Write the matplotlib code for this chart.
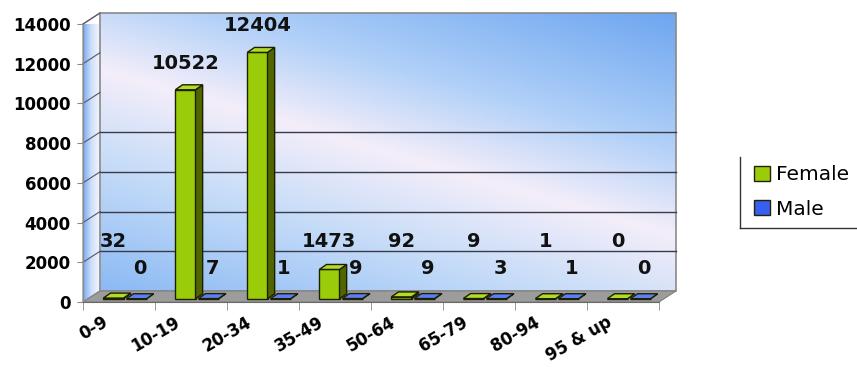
import numpy as np
import matplotlib
matplotlib.use("Agg")
import matplotlib.pyplot as plt
from matplotlib.patches import Polygon, Rectangle, Patch
from matplotlib.colors import LinearSegmentedColormap
from matplotlib.transforms import ScaledTranslation
from matplotlib.lines import Line2D

# data
age_groups = ["0-9", "10-19", "20-34", "35-49", "50-64", "65-79", "80-94", "95 & up"]
female = [32, 10522, 12404, 1473, 92, 9, 1, 0]
male = [0, 7, 1, 9, 9, 3, 1, 0]
yticks = [0, 2000, 4000, 6000, 8000, 10000, 12000, 14000]

plt.rcParams['font.family'] = ['DejaVu Sans']

fig = plt.figure(figsize=(8.57, 3.67), dpi=100)
fig.patch.set_facecolor("white")
# front plane of the 3d box
ax = fig.add_axes([83/857, 65/367, 576/857, 278/367])
ax.patch.set_visible(False)

YMAX = 14000
DX = 17/72.0            # depth of the box (x, data units)
DY = 11*YMAX/278.0      # depth of the box (y, data units)
n = len(age_groups)
x0, x1 = -0.5, n - 0.5

# back wall gradient
u = np.linspace(0, 1, 300)
v = np.linspace(0, 1, 150)
U, V = np.meshgrid(u, v)
C = 0.6*U + V - 0.8
wall_cmap = LinearSegmentedColormap.from_list(
    "wall", [(0, "#8cbaf4"), (0.28, "#c4dbf8"), (0.5, "#f4eefa"),
             (0.7, "#b0d0f8"), (1, "#6ea6f0")])
ax.imshow(C, cmap=wall_cmap, vmin=-0.8, vmax=0.8, origin="lower", aspect="auto",
          extent=(x0+DX, x1+DX, DY, YMAX+DY), zorder=0, clip_on=False,
          interpolation="bilinear")
ax.add_patch(Rectangle((x0+DX, DY), x1-x0, YMAX, fill=False, ec="#8a8a8a",
                       lw=1.2, zorder=1, clip_on=False))

# left wall
left_cmap = LinearSegmentedColormap.from_list("lw", ["#78aaf0", "#cfe0fa", "#f4f6fd"])
lw_img = ax.imshow(np.tile(np.linspace(0, 1, 50), (10, 1)), cmap=left_cmap,
                   origin="lower", aspect="auto",
                   extent=(x0, x0+DX, 0, YMAX+DY), zorder=0, clip_on=True)
lw_poly = Polygon([(x0, 0), (x0+DX, DY), (x0+DX, YMAX+DY), (x0, YMAX)],
                  closed=True, fill=False, ec="#9a9a9a", lw=1, zorder=1, clip_on=False)
ax.add_patch(lw_poly)
lw_img.set_clip_path(lw_poly)

# gridlines
for g in yticks[1:5]:
    ax.plot([x0+DX, x1+DX], [g+DY, g+DY], color="#3a3a48", lw=1, zorder=1, clip_on=False)
for g in yticks[1:]:
    ax.plot([x0, x0+DX], [g, g+DY], color="#555566", lw=0.8, zorder=1, clip_on=False)

# floor
ax.add_patch(Polygon([(x0, 0), (x0+DX, DY), (x1+DX, DY), (x1, 0)], closed=True,
                     fc="#9c9c9c", ec="#808080", lw=0.8, zorder=2, clip_on=False))

# bars with fake 3d faces
bw = 0.28
shift = DX*0.35
base = DY*0.3
bdx = DX*0.42
bdy = DY*0.45
styles = [
    (female, -0.16, "#9acc0a", "#4f6600", "#b2dc2a"),
    (male, 0.16, "#3860f0", "#1c2f80", "#5a80f8"),
]
for vals, off, front, side, top in styles:
    xs = np.arange(n) + off + shift
    ax.bar(xs, vals, width=bw, bottom=base, color=front, edgecolor="#1e1e00",
           lw=1, zorder=4, clip_on=False)
    for xc, h in zip(xs, vals):
        l, r = xc - bw/2, xc + bw/2
        ax.add_patch(Polygon([(r, base), (r+bdx, base+bdy), (r+bdx, base+h+bdy), (r, base+h)],
                             closed=True, fc=side, ec="#1e1e00", lw=1, zorder=4, clip_on=False))
        ax.add_patch(Polygon([(l, base+h), (l+bdx, base+h+bdy), (r+bdx, base+h+bdy), (r, base+h)],
                             closed=True, fc=top, ec="#1e1e00", lw=1, zorder=4, clip_on=False))

# value labels
fx = np.arange(n) - 0.16 + shift
mx = np.arange(n) + 0.16 + shift
for xc, val in zip(fx, female):
    ax.text(xc, max(val + 1500, 3070), str(val), ha="center", va="center",
            fontsize=14, fontweight="bold", color="#111111", zorder=6)
for xc, val in zip(mx, male):
    ax.text(xc + 0.05, max(val + 1500, 1700), str(val), ha="center", va="center",
            fontsize=14, fontweight="bold", color="#111111", zorder=6)

ax.set_xlim(x0, x1)
ax.set_ylim(0, YMAX)

# axes styling
for s in ["top", "right"]:
    ax.spines[s].set_visible(False)
ax.spines["left"].set_color("#8a8a8a")
ax.spines["bottom"].set_color("#6a6a6a")
ax.spines["left"].set_zorder(3)
ax.spines["bottom"].set_zorder(3)
ax.set_yticks(yticks)
ax.set_yticklabels([str(t) for t in yticks], fontsize=12, fontweight="bold")
ax.tick_params(axis="y", length=4, color="#8a8a8a", pad=5)

ax.set_xticks(np.arange(n))
ax.set_xticklabels(age_groups, fontsize=12, fontweight="bold", rotation=30,
                   ha="right", va="top", rotation_mode="anchor")
ax.set_xticks(np.arange(n + 1) - 0.5, minor=True)
ax.tick_params(axis="x", which="major", length=0, pad=8)
ax.tick_params(axis="x", which="minor", length=6, color="#8a8a8a")
for lab in ax.get_xticklabels():
    lab.set_transform(lab.get_transform() + ScaledTranslation(-0.17, 0, fig.dpi_scale_trans))

# legend
handles = [Patch(fc="#9acc0a", ec="#222200", label="Female"),
           Patch(fc="#3860f0", ec="#222200", label="Male")]
fig.legend(handles=handles, loc="center left", bbox_to_anchor=(746/857, 1 - 192/367),
           frameon=False, fontsize=14.5, handlelength=0.8, handleheight=0.8,
           handletextpad=0.3, labelspacing=0.75, borderaxespad=0)
fig.add_artist(Line2D([740/857, 740/857], [1 - 157/367, 1 - 228/367], color="#333333", lw=1))
fig.add_artist(Line2D([740/857, 1], [1 - 228/367, 1 - 228/367], color="#333333", lw=1))

fig.savefig("out.png", dpi=100)
